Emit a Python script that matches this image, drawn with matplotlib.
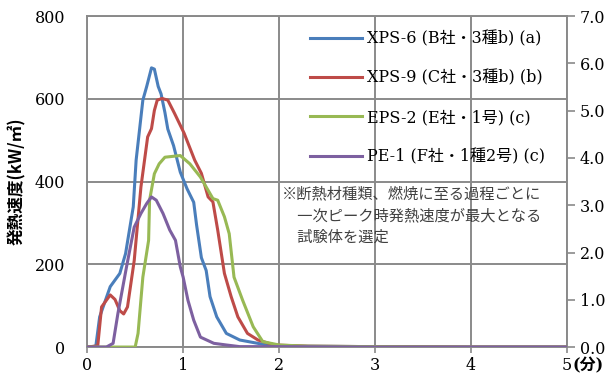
import matplotlib
matplotlib.use("Agg")
import matplotlib.pyplot as plt

plt.rcParams['font.family'] = ['DejaVu Serif', 'Noto Sans CJK JP']

# time (min) / heat release rate (kW/m2)
t_xps6 = [0.0, 0.09, 0.13, 0.24, 0.34, 0.40, 0.48, 0.51, 0.58, 0.62, 0.67, 0.70, 0.74, 0.77, 0.81,
          0.84, 0.90, 0.97, 1.04, 1.11, 1.14, 1.19, 1.24, 1.28, 1.35, 1.45, 1.59, 1.87, 2.2, 3.0, 4.0, 5.0]
v_xps6 = [0, 2, 73, 146, 178, 226, 339, 452, 597, 630, 675, 672, 630, 612, 567,
          527, 487, 423, 383, 350, 295, 216, 185, 122, 73, 33, 17, 5, 2, 1, 0, 0]

t_xps9 = [0.0, 0.11, 0.15, 0.24, 0.29, 0.34, 0.38, 0.42, 0.49, 0.56, 0.63, 0.67, 0.70, 0.73, 0.78,
          0.84, 0.91, 1.01, 1.12, 1.19, 1.26, 1.31, 1.36, 1.43, 1.50, 1.57, 1.67, 1.78, 1.95, 2.3, 3.0, 4.0, 5.0]
v_xps9 = [0, 3, 97, 126, 115, 88, 80, 97, 209, 387, 508, 528, 572, 597, 601,
          597, 565, 517, 452, 420, 363, 351, 283, 178, 122, 73, 33, 17, 5, 2, 1, 0, 0]

t_eps2 = [0.0, 0.50, 0.53, 0.58, 0.64, 0.65, 0.70, 0.75, 0.81, 0.97, 1.07, 1.18, 1.26, 1.31, 1.36,
          1.43, 1.48, 1.53, 1.62, 1.73, 1.83, 2.0, 2.3, 3.0, 4.0, 5.0]
v_eps2 = [0, 0, 33, 169, 258, 355, 419, 443, 459, 463, 443, 411, 379, 359, 355,
          315, 274, 169, 113, 49, 13, 5, 2, 1, 0, 0]

t_pe1 = [0.0, 0.20, 0.27, 0.32, 0.41, 0.49, 0.56, 0.62, 0.67, 0.72, 0.79, 0.86, 0.92, 0.97, 1.00,
         1.05, 1.11, 1.18, 1.32, 1.45, 1.59, 2.0, 3.0, 4.0, 5.0]
v_pe1 = [0, 0, 9, 81, 194, 290, 323, 347, 363, 355, 323, 283, 258, 194, 169,
         113, 65, 24, 9, 5, 1, 1, 0, 0, 0]

labels = ["XPS-6 (B社・3種b) (a)", "XPS-9 (C社・3種b) (b)",
          "EPS-2 (E社・1号) (c)", "PE-1 (F社・1種2号) (c)"]
colors = ["#4a7ebb", "#be4b48", "#98b954", "#7d60a0"]

x_ticks = [0, 1, 2, 3, 4, 5]
y_ticks = [0, 200, 400, 600, 800]
y2_ticks = [0, 1, 2, 3, 4, 5, 6, 7]

grid_c = "#8a8a8a"
fs = 11.5

fig = plt.figure(figsize=(6.14, 3.76), dpi=100)
ax = fig.add_axes([0.142, 0.077, 0.7815, 0.88])

series = [(t_xps6, v_xps6), (t_xps9, v_xps9), (t_eps2, v_eps2), (t_pe1, v_pe1)]
for (t, v), lab, c in zip(series, labels, colors):
    ax.plot(t, v, color=c, lw=2.2, label=lab, zorder=3)

ax.set_xlim(0, 5)
ax.set_ylim(0, 800)
ax.set_xticks(x_ticks)
ax.set_yticks(y_ticks)
ax.grid(True, color=grid_c, lw=1.4)
ax.set_axisbelow(True)
for s in ax.spines.values():
    s.set_color(grid_c)
    s.set_linewidth(1.4)
ax.tick_params(axis='y', length=0, pad=16, labelsize=fs)
ax.tick_params(axis='x', length=4.5, width=1.2, color=grid_c, pad=3, labelsize=fs)

ax.set_ylabel("発熱速度(kW/㎡)", family=['Noto Sans CJK JP'], fontweight='bold',
              fontsize=12, labelpad=6)

ax2 = ax.twinx()
ax2.set_ylim(0, 7)
ax2.set_yticks(y2_ticks)
ax2.set_yticklabels([f"{v:.1f}" for v in y2_ticks])
ax2.tick_params(axis='y', length=6, width=1.2, color=grid_c, pad=3, labelsize=fs)
for s in ax2.spines.values():
    s.set_visible(False)

ax.text(1.012, -0.058, "(分)", transform=ax.transAxes, fontsize=fs, fontweight='bold',
        va='center', ha='left')

leg = ax.legend(loc='upper left', bbox_to_anchor=(0.455, 0.972), frameon=False,
                handlelength=3.25, handletextpad=0.3, labelspacing=1.4, fontsize=fs,
                borderaxespad=0, borderpad=0.3)

ax.text(0.405, 0.488, "※断熱材種類、燃焼に至る過程ごとに\n\u3000一次ピーク時発熱速度が最大となる\n\u3000試験体を選定",
        transform=ax.transAxes, family=['Noto Sans CJK JP'], fontsize=11, color="#404040",
        va='top', ha='left', linespacing=1.35, zorder=4)

fig.savefig("out.png", dpi=100)
